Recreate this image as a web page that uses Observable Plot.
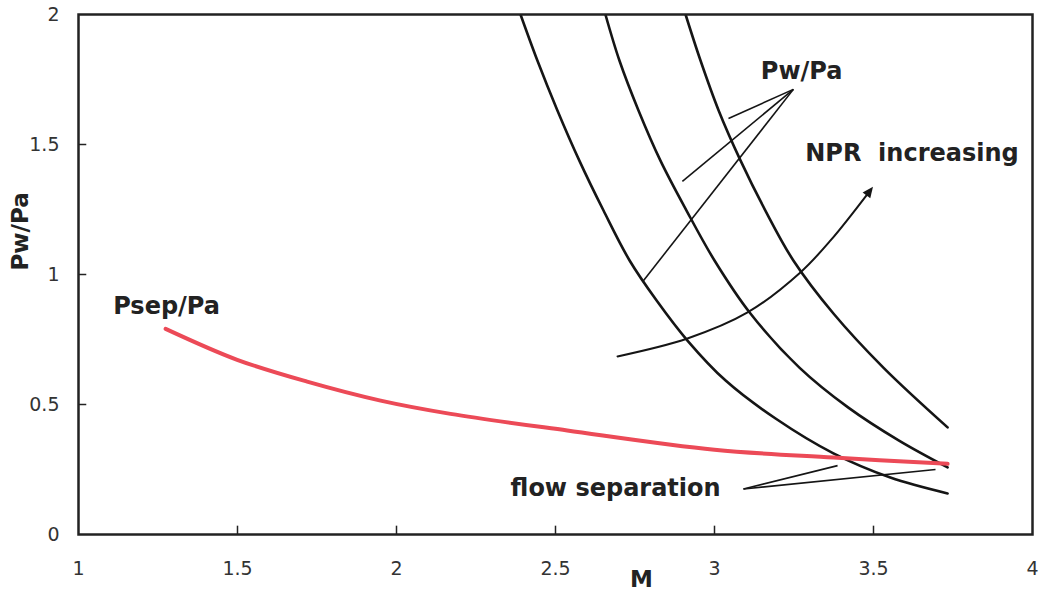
<!DOCTYPE html>
<html>
<head>
<meta charset="utf-8">
<script src="https://cdn.jsdelivr.net/npm/d3@7"></script>
<script src="https://cdn.jsdelivr.net/npm/@observablehq/plot@0.6"></script>
<style>
  html, body { margin: 0; padding: 0; background: #fff; }
  #chart { width: 1039px; height: 599px; }
</style>
</head>
<body>
<div id="chart"></div>
<script>
// Axis ticks
const xTicks = [1, 1.5, 2, 2.5, 3, 3.5, 4];
const yTicks = [0, 0.5, 1, 1.5, 2];
const xTickMarks = [1.5, 2, 2.5, 3, 3.5];
const yTickMarks = [0.5, 1, 1.5];

// Psep/Pa (red)
const psepM = [1.274, 1.499, 1.719, 1.95, 2.17, 2.537, 3.0, 3.374, 3.733];
const psepV = [0.791, 0.672, 0.588, 0.515, 0.464, 0.400, 0.326, 0.296, 0.272];

// Pw/Pa curves (three NPR values)
const pwA_M = [2.390, 2.443, 2.506, 2.575, 2.651, 2.733, 2.818, 2.915, 3.035, 3.192, 3.374, 3.553, 3.733];
const pwA_V = [2.000, 1.823, 1.631, 1.438, 1.246, 1.054, 0.900, 0.746, 0.592, 0.446, 0.312, 0.219, 0.158];
const pwB_M = [2.657, 2.701, 2.761, 2.830, 2.912, 3.000, 3.113, 3.267, 3.421, 3.579, 3.733];
const pwB_V = [2.000, 1.823, 1.631, 1.438, 1.246, 1.054, 0.850, 0.642, 0.488, 0.362, 0.258];
const pwC_M = [2.909, 2.956, 3.013, 3.082, 3.160, 3.248, 3.374, 3.531, 3.733];
const pwC_V = [2.000, 1.823, 1.631, 1.438, 1.246, 1.054, 0.850, 0.642, 0.412];

// "NPR increasing" arrow path
const nprM = [2.695, 2.915, 3.104, 3.270, 3.365, 3.487];
const nprV = [0.685, 0.754, 0.854, 1.008, 1.131, 1.319];

// Leader lines: Pw/Pa
const pwLeadFrom = {M: 3.248, V: 1.712};
const pwLeadToM = [3.044, 2.899, 2.777];
const pwLeadToV = [1.600, 1.358, 0.977];
// Leader lines: flow separation
const fsLeadFrom = {M: 3.091, V: 0.175};
const fsLeadToM = [3.387, 3.695];
const fsLeadToV = [0.265, 0.250];

// Labels
const labels = ["Psep/Pa", "Pw/Pa", "NPR\u00a0 increasing", "flow separation"];
const labelM = [1.277, 3.274, 3.621, 2.689];
const labelV = [0.877, 1.783, 1.465, 0.179];

const toPts = (ms, vs) => ms.map((m, i) => ({M: m, V: vs[i]}));
const curves = [
  ...toPts(pwA_M, pwA_V).map(d => ({...d, s: "A"})),
  ...toPts(pwB_M, pwB_V).map(d => ({...d, s: "B"})),
  ...toPts(pwC_M, pwC_V).map(d => ({...d, s: "C"}))
];
const psep = toPts(psepM, psepV);
const npr = toPts(nprM, nprV);
const pwLeads = pwLeadToM.map((m, i) => ({x1: pwLeadFrom.M, y1: pwLeadFrom.V, x2: m, y2: pwLeadToV[i]}));
const fsLeads = fsLeadToM.map((m, i) => ({x1: fsLeadFrom.M, y1: fsLeadFrom.V, x2: m, y2: fsLeadToV[i]}));
const labelData = labels.map((t, i) => ({t, M: labelM[i], V: labelV[i]}));

const triangleMarker = (color) =>
  d3.create("svg:marker")
    .attr("viewBox", "-5 -5 10 10")
    .attr("markerWidth", 6)
    .attr("markerHeight", 6)
    .attr("orient", "auto")
    .attr("fill", color)
    .attr("stroke", "none")
    .call(m => m.append("path").attr("d", "M-4,-4L5,0L-4,4Z"))
    .node();

const chart = Plot.plot({
  width: 1039,
  height: 599,
  marginLeft: 78,
  marginRight: 7,
  marginTop: 14,
  marginBottom: 65,
  style: {fontFamily: "'DejaVu Sans', sans-serif", fontSize: "19px", color: "#333", background: "#fff"},
  x: {domain: [1, 4], ticks: xTicks, tickSize: 0, tickPadding: 27, tickFormat: d => String(d), label: null},
  y: {domain: [0, 2], ticks: yTicks, tickSize: 0, tickPadding: 19, tickFormat: d => String(d), label: null},
  marks: [
    Plot.ruleX(xTickMarks, {x: d => d, y1: 0, y2: 0.032, stroke: "#222", strokeWidth: 1.5}),
    Plot.ruleY(yTickMarks, {y: d => d, x1: 1, x2: 1.026, stroke: "#222", strokeWidth: 1.5}),
    Plot.line(curves, {x: "M", y: "V", z: "s", curve: "catmull-rom", stroke: "#151515", strokeWidth: 2.6, clip: true}),
    Plot.line(npr, {x: "M", y: "V", curve: "catmull-rom", stroke: "#151515", strokeWidth: 2, markerEnd: triangleMarker}),
    Plot.link(pwLeads, {x1: "x1", y1: "y1", x2: "x2", y2: "y2", stroke: "#151515", strokeWidth: 1.6}),
    Plot.link(fsLeads, {x1: "x1", y1: "y1", x2: "x2", y2: "y2", stroke: "#151515", strokeWidth: 1.6}),
    Plot.line(psep, {x: "M", y: "V", curve: "catmull-rom", stroke: "#ec4a57", strokeWidth: 4}),
    Plot.text(labelData, {x: "M", y: "V", text: "t", fontWeight: "bold", fontSize: 24, fill: "#222", textAnchor: "middle", lineAnchor: "middle"}),
    Plot.text(["Pw/Pa"], {frameAnchor: "left", dx: -58, dy: -4, rotate: -90, text: d => d, fontWeight: "bold", fontSize: 23, fill: "#222"}),
    Plot.text(["M"], {x: 2.77, frameAnchor: "bottom", dy: 52, text: d => d, fontWeight: "bold", fontSize: 23, fill: "#222"}),
    Plot.frame({stroke: "#222", strokeWidth: 2.5})
  ]
});
document.getElementById("chart").appendChild(chart);
</script>
</body>
</html>
